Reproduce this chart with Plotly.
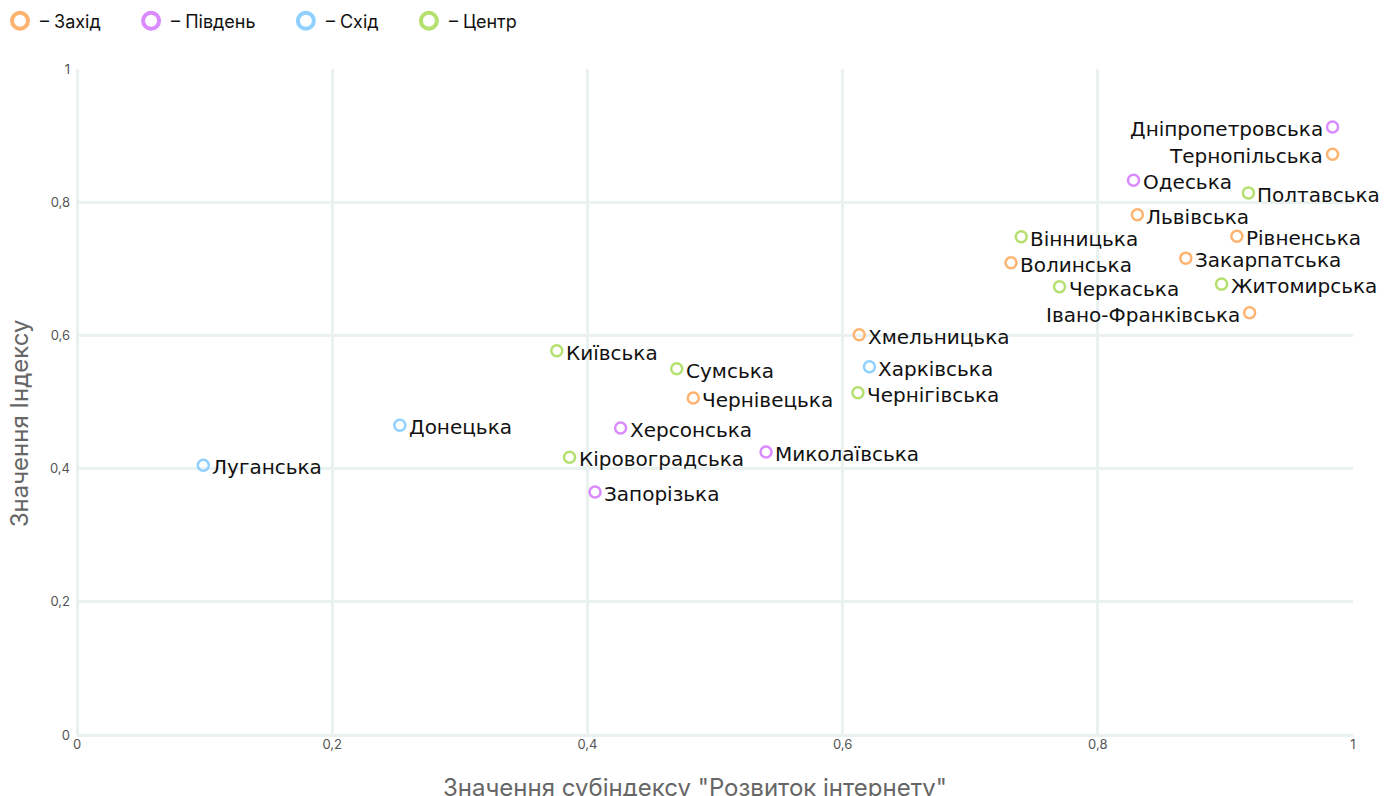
import plotly.graph_objects as go

regions = ["Захід", "Південь", "Схід", "Центр"]
colors = {"Захід": "#FFB370", "Південь": "#D98BFF", "Схід": "#8FD0FF", "Центр": "#B4E06E"}

names = ["Дніпропетровська", "Тернопільська", "Одеська", "Полтавська", "Львівська",
         "Вінницька", "Рівненська", "Волинська", "Закарпатська", "Черкаська",
         "Житомирська", "Івано-Франківська", "Хмельницька", "Харківська", "Чернігівська",
         "Київська", "Сумська", "Чернівецька", "Херсонська", "Донецька",
         "Кіровоградська", "Миколаївська", "Запорізька", "Луганська"]
x_vals = [0.984, 0.984, 0.828, 0.918, 0.831,
          0.740, 0.909, 0.732, 0.869, 0.770,
          0.897, 0.919, 0.613, 0.621, 0.612,
          0.376, 0.470, 0.483, 0.426, 0.253,
          0.386, 0.540, 0.406, 0.099]
y_vals = [0.913, 0.872, 0.833, 0.814, 0.781,
          0.748, 0.749, 0.709, 0.716, 0.673,
          0.677, 0.634, 0.601, 0.553, 0.514,
          0.577, 0.550, 0.506, 0.461, 0.465,
          0.417, 0.425, 0.365, 0.405]
region_of = ["Південь", "Захід", "Південь", "Центр", "Захід",
             "Центр", "Захід", "Захід", "Захід", "Центр",
             "Центр", "Захід", "Захід", "Схід", "Центр",
             "Центр", "Центр", "Захід", "Південь", "Схід",
             "Центр", "Південь", "Південь", "Схід"]
label_side = ["left", "left", "right", "right", "right",
              "right", "right", "right", "right", "right",
              "right", "left", "right", "right", "right",
              "right", "right", "right", "right", "right",
              "right", "right", "right", "right"]
x_ticks = [0, 0.2, 0.4, 0.6, 0.8, 1]
y_ticks = [0, 0.2, 0.4, 0.6, 0.8, 1]

fig = go.Figure()

for reg in regions:
    idx = [i for i, r in enumerate(region_of) if r == reg]
    fig.add_trace(go.Scatter(
        x=[x_vals[i] for i in idx],
        y=[y_vals[i] for i in idx],
        mode="markers",
        marker=dict(symbol="circle-open", size=11, color=colors[reg],
                    line=dict(width=2.5, color=colors[reg])),
        showlegend=False, hoverinfo="skip", cliponaxis=False,
    ))

annotations = []
for name, xv, yv, side in zip(names, x_vals, y_vals, label_side):
    annotations.append(dict(
        text=name, x=xv, y=yv, xref="x", yref="y", showarrow=False,
        xanchor="right" if side == "left" else "left", yanchor="middle",
        xshift=-8 if side == "left" else 7, yshift=-2,
        font=dict(family="DejaVu Sans, sans-serif", size=20, color="#111"),
    ))

pad = "\u00a0" * 5
for reg in regions:
    fig.add_trace(go.Scatter(
        x=[None], y=[None], mode="markers", name="– " + reg + pad,
        marker=dict(symbol="circle-open", size=17, color=colors[reg],
                    line=dict(width=4, color=colors[reg])),
        showlegend=True,
    ))

annotations += [
    dict(text='Значення субіндексу "Розвиток інтернету"', xref="paper", yref="paper",
         x=0.4843, y=-0.079, xanchor="center", yanchor="middle", showarrow=False,
         font=dict(family="Inter, sans-serif", size=24, color="#666")),
    dict(text="Значення Індексу", xref="paper", yref="paper", textangle=-90,
         x=-0.0455, y=0.468, xanchor="center", yanchor="middle", showarrow=False,
         font=dict(family="Inter, sans-serif", size=24, color="#666")),
]

grid = "#E9F1F1"
fig.update_layout(
    width=1384, height=796,
    margin=dict(l=77, r=31, t=69, b=61),
    paper_bgcolor="white", plot_bgcolor="white",
    separators=", ",
    font=dict(family="Inter, sans-serif", color="#555"),
    legend=dict(orientation="h", xref="container", yref="container",
                x=0, xanchor="left", y=0.9736, yanchor="middle",
                font=dict(family="Inter, sans-serif", size=18, color="#111"),
                itemsizing="trace", traceorder="normal"),
    xaxis=dict(range=[0, 1], tickvals=x_ticks, showgrid=True, gridcolor=grid, gridwidth=2.5,
               zeroline=True, zerolinecolor=grid, zerolinewidth=2.5, showline=False,
               tickfont=dict(size=13, color="#555"), ticks="", fixedrange=True),
    yaxis=dict(range=[0, 1], tickvals=y_ticks, showgrid=True, gridcolor=grid, gridwidth=2.5,
               zeroline=True, zerolinecolor=grid, zerolinewidth=2.5, showline=False,
               tickfont=dict(size=13, color="#555"), ticks="", fixedrange=True,
               ticklabelstandoff=6),
    annotations=annotations,
)

fig.write_html("out.html", config={"displayModeBar": False},
               post_script="document.body.style.margin='0';")
